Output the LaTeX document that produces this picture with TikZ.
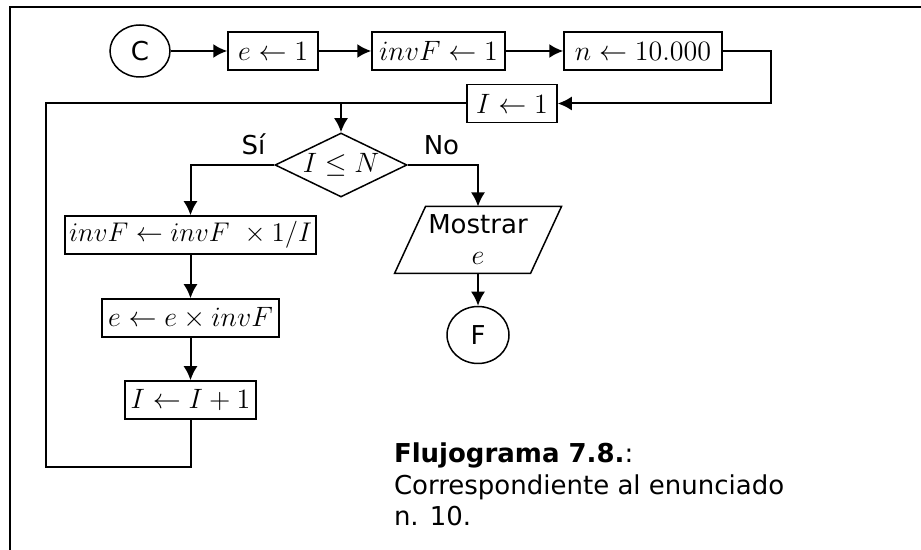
\RequirePackage{fix-cm}
\documentclass[tikz,border=0pt]{standalone}
\usepackage[no-math]{fontspec}
\setmainfont{DejaVu Sans}
\usepackage{amsmath}
\usepackage{tikz}
\usetikzlibrary{shapes.geometric,arrows.meta,positioning,calc}
\tikzset{
mathfont/.style = {font=\fontsize{14}{17}\selectfont},
block/.style = {draw, fill=white, rectangle, line width=0.75pt, minimum height=19pt, inner xsep=1.5pt, inner ysep=2pt, mathfont},
term/.style = {draw, fill=white, ellipse, line width=0.75pt, minimum width=30pt, minimum height=26pt, inner sep=0pt},
decision/.style = {draw, fill=white, diamond, aspect=2.06, line width=0.75pt, minimum width=66pt, minimum height=32pt, inner sep=0pt, mathfont},
io/.style = {rectangle, minimum width=67pt, minimum height=32.5pt, inner sep=0pt, align=center},
tag/.style = {inner sep=0pt}
}

\begin{document}
\begin{tikzpicture}[x=0.5pt, y=-0.5pt, >={Latex[length=7pt,width=7pt]}, line width=1pt,
  font=\fontsize{13}{16.5}\selectfont]
    \useasboundingbox (0,0) rectangle (921,550);
    % marco
    \draw[line width=0.75pt] (921,7) -- (10,7) -- (10,550);

    \node [term] (start) at (140,51) {C};
    \node [block, right of=start, node distance=66.5pt, minimum width=45pt] (eini) {$e \leftarrow 1$};
    \node [block, right of=eini, node distance=82.75pt, minimum width=66.5pt] (finv) {$invF \leftarrow 1$};
    \node [block, right of=finv, node distance=102.25pt, minimum width=79pt] (nval) {$n \leftarrow 10.000$};
    \node [block, minimum width=45pt] (iini) at (512,103.5) {$I \leftarrow 1$};
    \draw [->] (start) -- (eini);
    \draw [->] (eini) -- (finv);
    \draw [->] (finv) -- (nval);
    \draw [->] (nval.east) -- ++(48,0) |- (iini.east);

    \node [decision] (cond) at (341,165) {$I \leq N$};
    \node [tag, anchor=base east] (si) at ($(cond.west)+(-4pt,5pt)$) {Sí};
    \node [tag, anchor=base west] (no) at ($(cond.east)+(7.5pt,5pt)$) {No};

    \node [block, minimum width=125.5pt, font=\fontsize{13.5}{16}\selectfont] (finvup) at (190.5,235) {$invF \leftarrow invF\,\, \times 1/I$};
    \node [block, below of=finvup, node distance=41.5pt, minimum width=88.5pt] (eup) {$e \leftarrow e \times invF$};
    \node [block, below of=eup, node distance=41pt, minimum width=65.5pt] (iup) {$I \leftarrow I + 1$};
    \draw [->] (cond.west) -| (finvup.north);
    \draw [->] (finvup) -- (eup);
    \draw [->] (eup) -- (iup);

    % regreso del ciclo
    \coordinate (lb) at (46,467);
    \coordinate (lt) at (46,103.5);
    \draw (iup.south) |- (lb) -- (lt) -- (iini.west);
    \draw [->] (cond.north |- iini.west) -- (cond.north);

    \node [io] (show) at (478,240) {Mostrar\\[-1pt]{\fontsize{14}{17}\selectfont$e$}};
    \draw [line width=0.75pt] ($(show.north west)+(7.75pt,0)$) -- ($(show.north east)+(7.75pt,0)$)
      -- ($(show.south east)+(-7.75pt,0)$) -- ($(show.south west)+(-7.75pt,0)$) -- cycle;
    \node [term, below of=show, node distance=47.5pt, minimum width=31pt, minimum height=28.5pt] (fin) {F};
    \draw [->] (cond.east) -| (show.north);
    \draw [->] (show.south) -- (fin);

    \node [anchor=north west, inner sep=0pt, align=left, font=\fontsize{13}{15.75}\selectfont] (cap) at (393,442)
      {\textbf{Flujograma 7.8.}:\\Correspondiente al enunciado\\n. 10.};
\end{tikzpicture}
\end{document}
